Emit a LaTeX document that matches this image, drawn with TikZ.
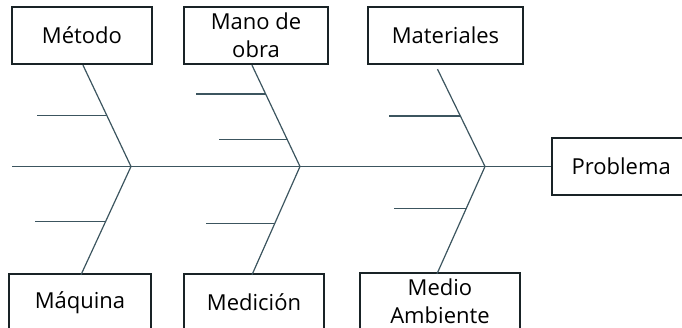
\documentclass[tikz,border=0pt]{standalone}
\usepackage{fontspec}
\setmainfont{Open Sans}
\usepackage{tikz}
\usetikzlibrary{positioning}
\definecolor{boxline}{RGB}{25,35,38}
\definecolor{boneline}{RGB}{60,85,95}

\begin{document}
\begin{tikzpicture}[
            x = 1pt, y = -1pt, % image coordinates
            font = \fontsize{22}{28}\selectfont,
            bone/.style = {draw = boneline, line width = 1.2pt}
        ]

        \tikzstyle{cause}=[
            draw = boxline,
            line width = 2.4pt,
            fill = white,
            inner sep = 0pt,
            align = center,
            minimum height = 57pt
        ]

        \useasboundingbox (0,0) rectangle (682,328);

	% heads
        \node[cause, minimum width=140pt] (metodo) at (82,35.5) {Método};
        \node[cause, minimum width=144pt] (mano) at (256,35.5) {Mano de\\obra};
        \node[cause, minimum width=155pt] (mat) at (445.5,35.5) {Materiales};
        \node[cause, minimum width=142pt] (maquina) at (80,302.5) {Máquina};
        \node[cause, minimum width=140pt] (medicion) at (254,302.5) {Medición};
        \node[cause, minimum width=160pt] (medio) at (440,301.5) {Medio\\Ambiente};
        \node[cause, anchor=west] (problema) at (551,166.5)
            {\makebox[138pt][c]{Problema}\hspace{24pt}};

        % spine
        \coordinate (tail) at (12,166.5);
        \coordinate (j1) at (131,166.5);
        \coordinate (j2) at (300,166.5);
        \coordinate (j3) at (485,166.5);
        \draw[bone] (tail) -- (problema.west);

        % bones
        \draw[bone] (j1) -- ([xshift=1pt]metodo.south) coordinate[pos=.5] (m1);
        \draw[bone] (j2) -- ([xshift=-4pt]mano.south) coordinate[pos=.265] (o2) coordinate[pos=.716] (o1);
        \draw[bone] (j3) -- ([xshift=-8pt,yshift=-4pt]mat.south) coordinate[pos=.52] (t1);
        \draw[bone] (j1) -- ([xshift=1pt,yshift=-2pt]maquina.north) coordinate[pos=.505] (q1);
        \draw[bone] (j2) -- ([xshift=-2pt,yshift=-2pt]medicion.north) coordinate[pos=.524] (d1);
        \draw[bone] (j3) -- ([xshift=-3pt,yshift=-2pt]medio.north) coordinate[pos=.394] (a1);

        % small bones
        \coordinate[left=70pt of m1] (m1e);
        \coordinate[left=70pt of o1] (o1e);
        \coordinate[left=68pt of o2] (o2e);
        \coordinate[left=71pt of t1] (t1e);
        \coordinate[left=71pt of q1] (q1e);
        \coordinate[left=69pt of d1] (d1e);
        \coordinate[left=72pt of a1] (a1e);
        \foreach \c in {m1,o1,o2,t1,q1,d1,a1}
            \draw[bone] (\c) -- (\c e);

\end{tikzpicture}
\end{document}
